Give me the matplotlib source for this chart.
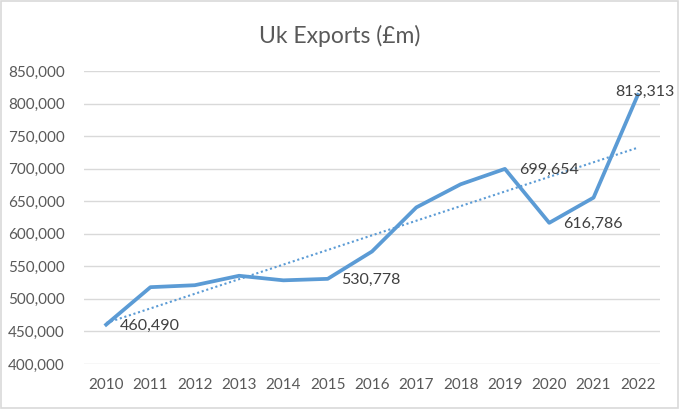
import matplotlib
matplotlib.use("Agg")
import matplotlib.pyplot as plt
import numpy as np
from matplotlib.patches import Rectangle

years = ["2010", "2011", "2012", "2013", "2014", "2015", "2016", "2017", "2018", "2019", "2020", "2021", "2022"]
exports = [460490, 518000, 521000, 535500, 528500, 530778, 572800, 640500, 676000, 699654, 616786, 655500, 813313]
labelled = ["2010", "2015", "2019", "2020", "2022"]
yticks = [400000, 450000, 500000, 550000, 600000, 650000, 700000, 750000, 800000, 850000]

plt.rcParams['font.family'] = ['Lato', 'DejaVu Sans']
txt = '#595959'
blue = '#5B9BD5'

fig = plt.figure(figsize=(6.8, 4.09), dpi=100)
ax = fig.add_axes([84/680, 1-364/409, (660-84)/680, (364-71)/409])

x = np.arange(len(years))
ax.plot(x, exports, color=blue, lw=2.7, solid_joinstyle='round', zorder=3)
coef = np.polyfit(x, exports, 1)
ax.plot(x, np.polyval(coef, x), color=blue, lw=1.5, linestyle=(0, (1, 1.3)), zorder=2)

for i, y in enumerate(years):
    if y in labelled:
        if i == len(years) - 1:
            ax.annotate(f"{exports[i]:,}", (x[i], exports[i]), xytext=(674/680, 2),
                        textcoords=('figure fraction', 'offset points'),
                        ha='right', va='center', fontsize=11.5, color='#404040', zorder=4)
        else:
            ax.annotate(f"{exports[i]:,}", (x[i], exports[i]), xytext=(10, -1), textcoords='offset points',
                        ha='left', va='center', fontsize=11.5, color='#404040', zorder=4)

ax.set_xlim(-0.5, len(years) - 0.5)
ax.set_ylim(yticks[0], yticks[-1])
ax.set_yticks(yticks)
ax.set_yticklabels([f"{v:,}" for v in yticks])
ax.set_xticks(x)
ax.set_xticklabels(years)
ax.tick_params(length=0, labelsize=11, labelcolor=txt)
ax.tick_params(axis='x', pad=10)
ax.tick_params(axis='y', pad=14)
ax.grid(axis='y', color='#D9D9D9', lw=1)
ax.set_axisbelow(True)
for s in ax.spines.values():
    s.set_visible(False)

fig.text(0.5, 1-36/409, "Uk Exports (£m)", ha='center', va='center', fontsize=16.5, color=txt)
fig.patches.append(Rectangle((0.002, 0.003), 0.995, 0.994, transform=fig.transFigure,
                             fill=False, edgecolor='#D9D9D9', lw=1.2))
fig.savefig("out.png", dpi=100)
